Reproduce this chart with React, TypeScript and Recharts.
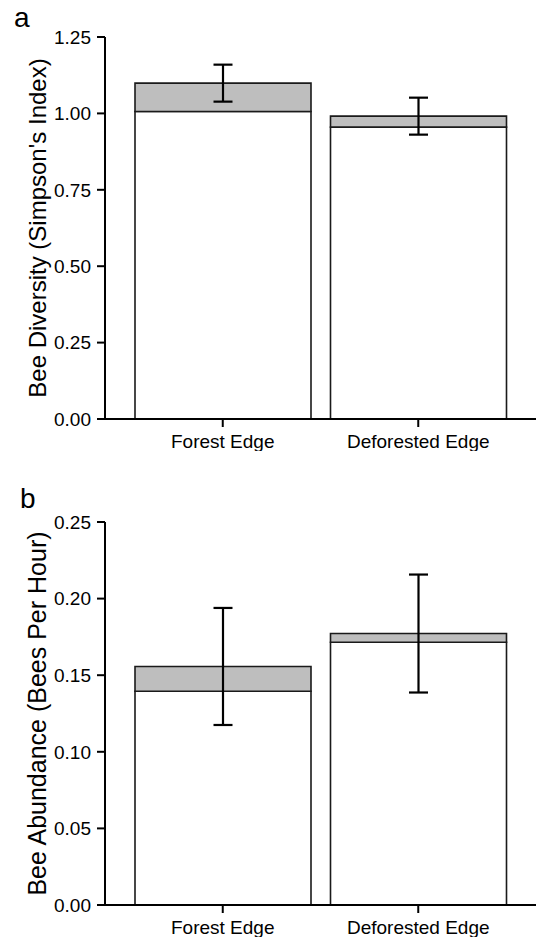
import React from 'react';
import { BarChart, Bar, XAxis, YAxis, ErrorBar } from 'recharts';

const categories = ['Forest Edge', 'Deforested Edge'];

// panel a: Simpson's index
const diversityBase = [1.006, 0.955];
const diversityTotal = [1.099, 0.991];
const diversityErr = [0.0605, 0.0605];
const diversityTicks = [0, 0.25, 0.5, 0.75, 1.0, 1.25];

// panel b: bees per hour
const abundanceBase = [0.1395, 0.1715];
const abundanceTotal = [0.1557, 0.1772];
const abundanceErr = [0.0382, 0.0385];
const abundanceTicks = [0, 0.05, 0.1, 0.15, 0.2, 0.25];

const FONT = '"Liberation Sans", Arial, Helvetica, sans-serif';

const buildRows = (base: number[], total: number[], err: number[]) =>
  categories.map((name, i) => ({
    name,
    base: base[i],
    top: +(total[i] - base[i]).toFixed(4),
    err: err[i],
  }));

interface PanelProps {
  rows: ReturnType<typeof buildRows>;
  ticks: number[];
  yLabel: string;
  labelSize: number;
  height: number;
}

const Panel: React.FC<PanelProps> = ({ rows, ticks, yLabel, labelSize, height }) => {
  const axisStroke = { stroke: '#000', strokeWidth: 2 };
  return (
    <BarChart
      width={536}
      height={height}
      data={rows}
      margin={{ top: 37, right: 0, bottom: 0, left: 0 }}
      barSize={176}
    >
      <XAxis
        dataKey="name"
        padding={{ left: 20, right: 20 }}
        axisLine={axisStroke}
        tickLine={axisStroke}
        tickSize={8}
        tickMargin={8}
        height={32}
        tick={{ fill: '#000', fontSize: 19, fontFamily: FONT }}
      />
      <YAxis
        width={105}
        domain={[ticks[0], ticks[ticks.length - 1]]}
        ticks={ticks}
        interval={0}
        tickFormatter={(v: number) => v.toFixed(2)}
        axisLine={axisStroke}
        tickLine={axisStroke}
        tickSize={8}
        tickMargin={6}
        tick={{ fill: '#000', fontSize: 19, fontFamily: FONT }}
        label={{
          content: (props: any) => {
            const vb = props.viewBox || { x: 0, y: 37, width: 105, height: 382 };
            const x = vb.x + 46;
            const y = vb.y + vb.height / 2;
            return (
              <text
                x={x}
                y={y}
                transform={`rotate(-90 ${x} ${y})`}
                textAnchor="middle"
                fill="#000"
                fontSize={labelSize}
                fontFamily={FONT}
              >
                {yLabel}
              </text>
            );
          },
        }}
      />
      <Bar dataKey="base" stackId="s" fill="#ffffff" stroke="#1a1a1a" strokeWidth={1.6} isAnimationActive={false} />
      <Bar dataKey="top" stackId="s" fill="#bebebe" stroke="#1a1a1a" strokeWidth={1.6} isAnimationActive={false}>
        <ErrorBar dataKey="err" width={9.5} stroke="#000" strokeWidth={2.2} direction="y" />
      </Bar>
    </BarChart>
  );
};

export default function App() {
  const diversityRows = buildRows(diversityBase, diversityTotal, diversityErr);
  const abundanceRows = buildRows(abundanceBase, abundanceTotal, abundanceErr);
  return (
    <div style={{ position: 'absolute', left: 0, top: 0, width: 536, height: 937, overflow: 'hidden', background: '#fff' }}>
      <div style={{ position: 'absolute', left: 0, top: 0 }}>
        <Panel rows={diversityRows} ticks={diversityTicks} yLabel="Bee Diversity (Simpson's Index)" labelSize={24} height={451} />
      </div>
      <div style={{ position: 'absolute', left: 0, top: 485 }}>
        <Panel rows={abundanceRows} ticks={abundanceTicks} yLabel="Bee Abundance (Bees Per Hour)" labelSize={25} height={452} />
      </div>
      <svg width={536} height={937} style={{ position: 'absolute', left: 0, top: 0, pointerEvents: 'none' }}>
        <text x={14} y={27} fontSize={28} fontFamily={FONT} fill="#000">a</text>
        <text x={20} y={508} fontSize={28} fontFamily={FONT} fill="#000">b</text>
      </svg>
    </div>
  );
}
